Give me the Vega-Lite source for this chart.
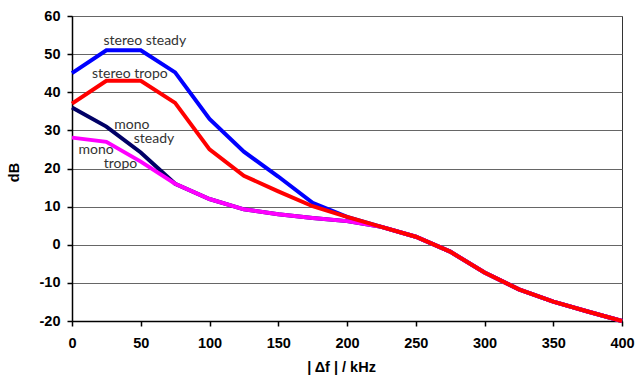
{
  "$schema": "https://vega.github.io/schema/vega-lite/v6.json",
  "width": 550,
  "height": 305,
  "autosize": {"type": "none"},
  "padding": {"left": 72, "top": 16, "right": 14, "bottom": 59},
  "background": "white",
  "config": {
    "view": {"stroke": "#333333", "strokeWidth": 1},
    "axis": {
      "labelFont": "Liberation Sans",
      "labelFontWeight": "bold",
      "labelFontSize": 14.5,
      "labelColor": "#000000",
      "labelOverlap": false,
      "labelExpr": "'' + datum.value",
      "titleFont": "Liberation Sans",
      "titleFontWeight": "bold",
      "titleFontSize": 14.5,
      "titleColor": "#000000",
      "domainColor": "#000000",
      "domainWidth": 1.5,
      "tickColor": "#000000",
      "tickWidth": 1.5,
      "tickSize": 5
    }
  },
  "datasets": {
    "curves": [
      {"f": 0, "dB": 36, "series": "mono steady"},
      {"f": 25, "dB": 31, "series": "mono steady"},
      {"f": 50, "dB": 24.2, "series": "mono steady"},
      {"f": 75, "dB": 16, "series": "mono steady"},
      {"f": 100, "dB": 12, "series": "mono steady"},
      {"f": 125, "dB": 9.3, "series": "mono steady"},
      {"f": 150, "dB": 8, "series": "mono steady"},
      {"f": 175, "dB": 7, "series": "mono steady"},
      {"f": 200, "dB": 6.2, "series": "mono steady"},
      {"f": 225, "dB": 4.7, "series": "mono steady"},
      {"f": 250, "dB": 2.1, "series": "mono steady"},
      {"f": 275, "dB": -1.8, "series": "mono steady"},
      {"f": 300, "dB": -7.3, "series": "mono steady"},
      {"f": 325, "dB": -11.7, "series": "mono steady"},
      {"f": 350, "dB": -14.9, "series": "mono steady"},
      {"f": 375, "dB": -17.5, "series": "mono steady"},
      {"f": 400, "dB": -20, "series": "mono steady"},
      {"f": 0, "dB": 45, "series": "stereo steady"},
      {"f": 25, "dB": 51, "series": "stereo steady"},
      {"f": 50, "dB": 51, "series": "stereo steady"},
      {"f": 75, "dB": 45.2, "series": "stereo steady"},
      {"f": 100, "dB": 33, "series": "stereo steady"},
      {"f": 125, "dB": 24.4, "series": "stereo steady"},
      {"f": 150, "dB": 17.9, "series": "stereo steady"},
      {"f": 175, "dB": 11, "series": "stereo steady"},
      {"f": 200, "dB": 7.3, "series": "stereo steady"},
      {"f": 225, "dB": 4.7, "series": "stereo steady"},
      {"f": 250, "dB": 2.1, "series": "stereo steady"},
      {"f": 275, "dB": -1.8, "series": "stereo steady"},
      {"f": 300, "dB": -7.3, "series": "stereo steady"},
      {"f": 325, "dB": -11.7, "series": "stereo steady"},
      {"f": 350, "dB": -14.9, "series": "stereo steady"},
      {"f": 375, "dB": -17.5, "series": "stereo steady"},
      {"f": 400, "dB": -20, "series": "stereo steady"},
      {"f": 0, "dB": 28.1, "series": "mono tropo"},
      {"f": 25, "dB": 27, "series": "mono tropo"},
      {"f": 50, "dB": 21.8, "series": "mono tropo"},
      {"f": 75, "dB": 16, "series": "mono tropo"},
      {"f": 100, "dB": 12, "series": "mono tropo"},
      {"f": 125, "dB": 9.3, "series": "mono tropo"},
      {"f": 150, "dB": 8, "series": "mono tropo"},
      {"f": 175, "dB": 7, "series": "mono tropo"},
      {"f": 200, "dB": 6.2, "series": "mono tropo"},
      {"f": 225, "dB": 4.7, "series": "mono tropo"},
      {"f": 250, "dB": 2.1, "series": "mono tropo"},
      {"f": 275, "dB": -1.8, "series": "mono tropo"},
      {"f": 300, "dB": -7.3, "series": "mono tropo"},
      {"f": 325, "dB": -11.7, "series": "mono tropo"},
      {"f": 350, "dB": -14.9, "series": "mono tropo"},
      {"f": 375, "dB": -17.5, "series": "mono tropo"},
      {"f": 400, "dB": -20, "series": "mono tropo"},
      {"f": 0, "dB": 37, "series": "stereo tropo"},
      {"f": 25, "dB": 43, "series": "stereo tropo"},
      {"f": 50, "dB": 43, "series": "stereo tropo"},
      {"f": 75, "dB": 37.2, "series": "stereo tropo"},
      {"f": 100, "dB": 25, "series": "stereo tropo"},
      {"f": 125, "dB": 18.1, "series": "stereo tropo"},
      {"f": 150, "dB": 14, "series": "stereo tropo"},
      {"f": 175, "dB": 10.1, "series": "stereo tropo"},
      {"f": 200, "dB": 7.3, "series": "stereo tropo"},
      {"f": 225, "dB": 4.7, "series": "stereo tropo"},
      {"f": 250, "dB": 2.1, "series": "stereo tropo"},
      {"f": 275, "dB": -1.8, "series": "stereo tropo"},
      {"f": 300, "dB": -7.3, "series": "stereo tropo"},
      {"f": 325, "dB": -11.7, "series": "stereo tropo"},
      {"f": 350, "dB": -14.9, "series": "stereo tropo"},
      {"f": 375, "dB": -17.5, "series": "stereo tropo"},
      {"f": 400, "dB": -20, "series": "stereo tropo"}
    ],
    "labels": [
      {"f": 53, "dB": 53.4, "text": "stereo steady"},
      {"f": 42.1, "dB": 44.7, "text": "stereo tropo"},
      {"f": 43.6, "dB": 31.4, "text": "mono"},
      {"f": 59.6, "dB": 27.7, "text": "steady"},
      {"f": 17.6, "dB": 24.8, "text": "mono"},
      {"f": 35.3, "dB": 21.2, "text": "tropo"}
    ]
  },
  "encoding": {
    "x": {
      "field": "f", "type": "quantitative",
      "scale": {"domain": [0, 400], "nice": false},
      "axis": {
        "title": "| Δf | / kHz",
        "values": [0, 50, 100, 150, 200, 250, 300, 350, 400],
        "grid": false,
        "labelPadding": 10,
        "titlePadding": 11,
        "titleX": 269,
        "titleAnchor": "middle",
        "labelFlush": false
      }
    },
    "y": {
      "field": "dB", "type": "quantitative",
      "scale": {"domain": [-20, 60], "nice": false},
      "axis": {
        "title": "dB",
        "values": [-20, -10, 0, 10, 20, 30, 40, 50, 60],
        "grid": true,
        "gridColor": "#666666",
        "gridWidth": 1,
        "gridOpacity": 1,
        "labelPadding": 7,
        "titlePadding": 18,
        "titleY": 156,
        "labelFlush": false
      }
    }
  },
  "layer": [
    {
      "data": {"name": "curves"},
      "mark": {"type": "line", "strokeWidth": 4, "strokeJoin": "miter", "strokeCap": "butt"},
      "encoding": {
        "color": {
          "field": "series", "type": "nominal",
          "scale": {
            "domain": ["mono steady", "stereo steady", "mono tropo", "stereo tropo"],
            "range": ["#000066", "#0000FF", "#FF00FF", "#FF0000"]
          },
          "legend": null
        }
      }
    },
    {
      "data": {"name": "labels"},
      "mark": {"type": "text", "font": "Lato", "fontSize": 14, "color": "#333333", "align": "center", "baseline": "middle"},
      "encoding": {
        "text": {"field": "text"}
      }
    }
  ]
}
